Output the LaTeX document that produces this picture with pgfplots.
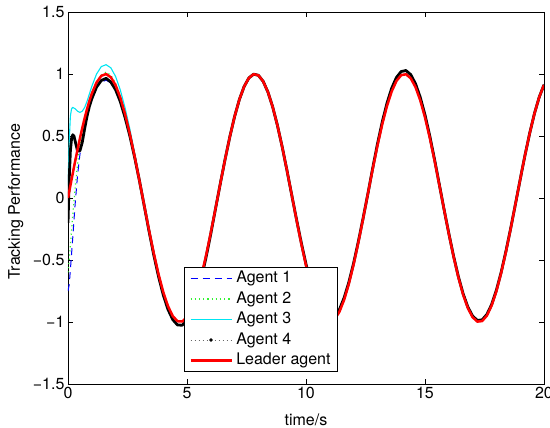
\documentclass[border=0pt]{standalone}
\usepackage{pgfplots}
\pgfplotsset{compat=1.18}
\usepackage{pgfplotstable}
\usepackage{fontspec}
\setmainfont{TeX Gyre Heros}
\definecolor{agreen}{rgb}{0.2,0.95,0.2}
\definecolor{acyan}{rgb}{0,0.9,0.95}
\definecolor{ablue}{rgb}{0,0,1}
\definecolor{ared}{rgb}{1,0,0}

\pgfplotstableread{
t lead a1 a2 a3 a4
0 0 -0.75 -0.60 0.10 -0.20
0.05 0.0500 -0.70 -0.50 0.45 0.15
0.1 0.0998 -0.58 -0.38 0.66 0.38
0.15 0.1494 -0.45 -0.26 0.72 0.48
0.2 0.1987 -0.32 -0.14 0.73 0.51
0.25 0.2474 -0.18 -0.03 0.725 0.50
0.3 0.2955 -0.05 0.08 0.72 0.46
0.4 0.3894 0.18 0.27 0.70 0.38
0.5 0.4794 0.35 0.42 0.69 0.38
0.6 0.5646 0.47 0.54 0.70 0.45
0.7 0.6442 0.57 0.63 0.73 0.56
0.8 0.7174 0.66 0.71 0.78 0.66
0.9 0.7833 0.74 0.78 0.84 0.74
1.0 0.8415 0.80 0.84 0.90 0.80
1.2 0.9320 0.89 0.93 1.00 0.895
1.4 0.9854 0.935 0.99 1.06 0.948
1.6 0.9996 0.95 1.015 1.075 0.965
1.8 0.9738 0.93 0.99 1.05 0.935
2.0 0.9093 0.875 0.925 0.98 0.873
2.2 0.8085 0.78 0.82 0.87 0.776
2.4 0.6755 0.655 0.685 0.725 0.648
2.6 0.5155 0.505 0.52 0.555 0.500
2.8 0.3350 0.33 0.337 0.36 0.328
3.0 0.1411 0.14 0.141 0.155 0.141
3.2 -0.0584 -0.0584 -0.0584 -0.0584 -0.060
3.4 -0.2555 -0.2555 -0.2555 -0.2555 -0.263
3.6 -0.4425 -0.4425 -0.4425 -0.4425 -0.456
3.8 -0.6119 -0.6119 -0.6119 -0.6119 -0.630
4.0 -0.7568 -0.7568 -0.7568 -0.7568 -0.780
4.2 -0.8716 -0.8716 -0.8716 -0.8716 -0.898
4.4 -0.9516 -0.9516 -0.9516 -0.9516 -0.980
4.6 -0.9937 -0.9937 -0.9937 -0.9937 -1.024
4.8 -0.9962 -0.9962 -0.9962 -0.9962 -1.026
5.0 -0.9589 -0.9589 -0.9589 -0.9589 -0.988
5.2 -0.8835 -0.8835 -0.8835 -0.8835 -0.910
5.4 -0.7728 -0.7728 -0.7728 -0.7728 -0.796
5.6 -0.6313 -0.6313 -0.6313 -0.6313 -0.650
5.8 -0.4646 -0.4646 -0.4646 -0.4646 -0.479
6.0 -0.2794 -0.2794 -0.2794 -0.2794 -0.288
6.2 -0.0831 -0.0831 -0.0831 -0.0831 -0.085
6.4 0.1165 0.1165 0.1165 0.1165 0.1165
6.6 0.3115 0.3115 0.3115 0.3115 0.3115
6.8 0.4941 0.4941 0.4941 0.4941 0.4941
7.0 0.6570 0.6570 0.6570 0.6570 0.6570
7.2 0.7937 0.7937 0.7937 0.7937 0.7937
7.4 0.8987 0.8987 0.8987 0.8987 0.8987
7.6 0.9679 0.9679 0.9679 0.9679 0.9679
7.8 0.9985 0.9985 0.9985 0.9985 0.9985
8.0 0.9894 0.9894 0.9894 0.9894 0.9894
8.2 0.9407 0.9407 0.9407 0.9407 0.9407
8.4 0.8546 0.8546 0.8546 0.8546 0.8546
8.6 0.7344 0.7344 0.7344 0.7344 0.7344
8.8 0.5849 0.5849 0.5849 0.5849 0.5849
9.0 0.4121 0.4121 0.4121 0.4121 0.4121
9.2 0.2229 0.2229 0.2229 0.2229 0.2229
9.4 0.0248 0.0248 0.0248 0.0248 0.0248
9.6 -0.1743 -0.1743 -0.1743 -0.1743 -0.171
9.8 -0.3665 -0.3665 -0.3665 -0.3665 -0.359
10.0 -0.5440 -0.5440 -0.5440 -0.5440 -0.533
10.2 -0.6999 -0.6999 -0.6999 -0.6999 -0.686
10.4 -0.8278 -0.8278 -0.8278 -0.8278 -0.811
10.6 -0.9228 -0.9228 -0.9228 -0.9228 -0.904
10.8 -0.9809 -0.9809 -0.9809 -0.9809 -0.961
11.0 -1.0000 -1.0000 -1.0000 -1.0000 -0.980
11.2 -0.9792 -0.9792 -0.9792 -0.9792 -0.960
11.4 -0.9193 -0.9193 -0.9193 -0.9193 -0.901
11.6 -0.8228 -0.8228 -0.8228 -0.8228 -0.806
11.8 -0.6935 -0.6935 -0.6935 -0.6935 -0.680
12.0 -0.5366 -0.5366 -0.5366 -0.5366 -0.526
12.2 -0.3582 -0.3582 -0.3582 -0.3582 -0.351
12.4 -0.1656 -0.1656 -0.1656 -0.1656 -0.162
12.6 0.0336 0.0336 0.0336 0.0336 0.0336
12.8 0.2315 0.2315 0.2315 0.2315 0.238
13.0 0.4202 0.4202 0.4202 0.4202 0.433
13.2 0.5921 0.5921 0.5921 0.5921 0.610
13.4 0.7404 0.7404 0.7404 0.7404 0.763
13.6 0.8592 0.8592 0.8592 0.8592 0.885
13.8 0.9437 0.9437 0.9437 0.9437 0.972
14.0 0.9906 0.9906 0.9906 0.9906 1.020
14.2 0.9980 0.9980 0.9980 0.9980 1.028
14.4 0.9657 0.9657 0.9657 0.9657 0.995
14.6 0.8948 0.8948 0.8948 0.8948 0.922
14.8 0.7883 0.7883 0.7883 0.7883 0.812
15.0 0.6503 0.6503 0.6503 0.6503 0.670
15.2 0.4864 0.4864 0.4864 0.4864 0.501
15.4 0.3031 0.3031 0.3031 0.3031 0.312
15.6 0.1078 0.1078 0.1078 0.1078 0.111
15.8 -0.0919 -0.0919 -0.0919 -0.0919 -0.091
16.0 -0.2879 -0.2879 -0.2879 -0.2879 -0.285
16.2 -0.4724 -0.4724 -0.4724 -0.4724 -0.468
16.4 -0.6381 -0.6381 -0.6381 -0.6381 -0.632
16.6 -0.7784 -0.7784 -0.7784 -0.7784 -0.771
16.8 -0.8876 -0.8876 -0.8876 -0.8876 -0.879
17.0 -0.9614 -0.9614 -0.9614 -0.9614 -0.952
17.2 -0.9969 -0.9969 -0.9969 -0.9969 -0.987
17.4 -0.9927 -0.9927 -0.9927 -0.9927 -0.983
17.6 -0.9488 -0.9488 -0.9488 -0.9488 -0.939
17.8 -0.8672 -0.8672 -0.8672 -0.8672 -0.859
18.0 -0.7510 -0.7510 -0.7510 -0.7510 -0.743
18.2 -0.6048 -0.6048 -0.6048 -0.6048 -0.599
18.4 -0.4346 -0.4346 -0.4346 -0.4346 -0.430
18.6 -0.2470 -0.2470 -0.2470 -0.2470 -0.245
18.8 -0.0495 -0.0495 -0.0495 -0.0495 -0.0495
19.0 0.1499 0.1499 0.1499 0.1549 0.1499
19.2 0.3433 0.3433 0.3433 0.3483 0.3433
19.4 0.5231 0.5231 0.5231 0.5281 0.5231
19.6 0.6820 0.6820 0.6820 0.6870 0.6820
19.8 0.8137 0.8137 0.8137 0.8187 0.8137
20.0 0.9129 0.9129 0.9129 0.9179 0.9129
}\data

\begin{document}
\begin{tikzpicture}
\begin{axis}[
  at={(0pt,0pt)}, anchor=south west,
  scale only axis, width=476pt, height=372pt,
  xmin=0, xmax=20, ymin=-1.5, ymax=1.5,
  xtick={0,5,10,15,20}, xticklabels={0,5,10,15,20},
  ytick={-1.5,-1,-0.5,0,0.5,1,1.5},
  yticklabels={−1.5,−1,−0.5,0,0.5,1,1.5},
  tick align=inside, tick pos=both, major tick length=5pt,
  axis line style={line width=0.8pt},
  every tick/.style={black, line width=0.8pt},
  font=\fontsize{16}{19}\selectfont,
  xlabel={time/s}, ylabel={Tracking Performance},
  xlabel style={at={(axis description cs:0.5,-0.095)}, anchor=center},
  ylabel style={at={(axis description cs:-0.11,0.49)}, anchor=center},
  legend cell align=left,
  legend image code/.code={\draw[mark repeat=2,mark phase=2,#1] plot coordinates {(0pt,0pt) (20.5pt,0pt) (41pt,0pt)};},
  legend style={at={(axis description cs:0.2437,0.032)}, anchor=south west,
    draw=black, line width=0.6pt, fill=white, inner xsep=5pt, inner ysep=2.5pt,
    row sep=3pt, column sep=2pt,
    nodes={inner sep=1.5pt, text height=11.5pt, text depth=3pt},
    font=\fontsize{16}{19}\selectfont},
]
\addplot[ablue, dash pattern=on 7pt off 5pt, line width=1pt, forget plot] table[x=t,y=a1]{\data};
\addplot[agreen, dash pattern=on 1.2pt off 3pt, line width=1.2pt, forget plot] table[x=t,y=a2]{\data};
\addplot[acyan, line width=1.1pt, forget plot] table[x=t,y=a3]{\data};
\addplot[black, line width=2.8pt, line join=round, forget plot] table[x=t,y=a4]{\data};
\addplot[ared, line width=2.5pt, line join=round, forget plot] table[x=t,y=lead]{\data};

\addlegendimage{color=ablue, dash pattern=on 7pt off 5pt, line width=1pt}
\addlegendentry{Agent 1}
\addlegendimage{color=agreen, dash pattern=on 1.2pt off 3pt, line width=1.2pt}
\addlegendentry{Agent 2}
\addlegendimage{legend image code/.code={\draw[acyan, solid, line width=1.5pt] (0pt,0pt) -- (41pt,0pt);}}
\addlegendentry{Agent 3}
\addlegendimage{color=black!60, dash pattern=on 1pt off 3pt, line width=0.7pt, mark=*, mark size=1.4pt, mark options={solid, fill=black, draw=black}}
\addlegendentry{Agent 4}
\addlegendimage{color=ared, line width=2.5pt}
\addlegendentry{Leader agent}
\end{axis}
\pgfresetboundingbox
\path[use as bounding box] (-68pt,-44pt) rectangle (482pt,384pt);
\end{tikzpicture}
\end{document}
